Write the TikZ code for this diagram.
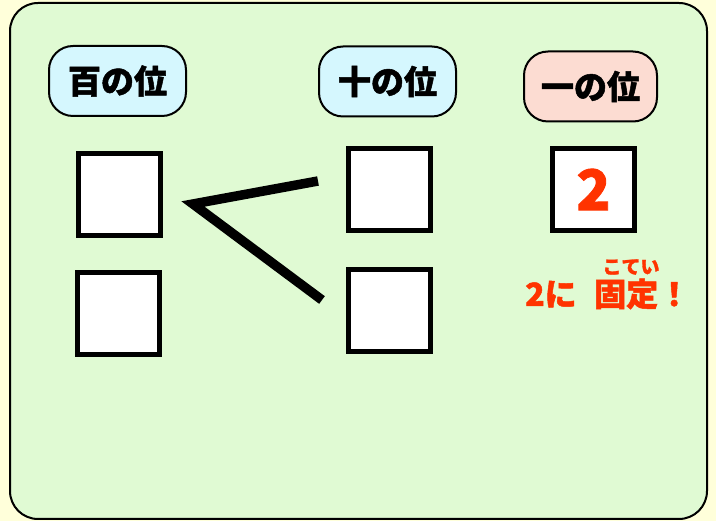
\documentclass[tikz,border=0pt]{standalone}
\usepackage{fontspec}
\newfontfamily\jp{Noto Sans CJK JP}
\newcommand\heavyjp[1]{\jp\bfseries\fontsize{#1}{#1}\selectfont\addfontfeature{FakeBold=1.5}}
\definecolor{outerbg}{HTML}{FFFFDA}
\definecolor{panel}{HTML}{E0FAD3}
\definecolor{cyanfill}{HTML}{D5F7FE}
\definecolor{pinkfill}{HTML}{FCDCD2}
\definecolor{fixred}{HTML}{FF3300}
\begin{document}
\begin{tikzpicture}[x=1pt,y=-1pt,
  placebox/.style={draw=black, line width=2pt, rounded corners=24pt,
    minimum width=137pt, minimum height=70pt, inner sep=0pt,
    font=\heavyjp{33}},
  slot/.style={draw=black, fill=white, line width=5pt, minimum size=82pt, inner sep=0pt},
  redtext/.style={text=fixred, inner sep=0pt}]
\useasboundingbox (0,0) rectangle (716,521);
\fill[outerbg] (0,0) rectangle (716,521);
\node[draw=black, line width=2pt, fill=panel, rounded corners=28pt,
  minimum width=697pt, minimum height=516pt, inner sep=0pt] (panel) at (358.5,261) {};
% place-value labels
\node[placebox, fill=cyanfill] (hund) at (117.5,81) {百の位};
\node[placebox, fill=cyanfill] (tens) at (387.5,81.5) {十の位};
\node[placebox, fill=pinkfill, minimum width=133pt] (ones) at (590.5,86.5) {一の位};
% slots
\node[slot] (h1) at (119.5,194.5) {};
\node[slot] (h2) at (118.5,314) {};
\node[slot] (t1) at (389,189.5) {};
\node[slot] (t2) at (389,310.5) {};
\node[slot, text=fixred, font=\heavyjp{56}] (o1) at (593.5,189.5) {2};
% branching lines
\coordinate (v) at (193,204);
\coordinate (e1) at (318,181);
\coordinate (e2) at (322,300);
\draw[line width=9.5pt, line join=miter] (e1) -- (v) -- (e2);
% fixed note
\node[redtext, anchor=base west, font=\heavyjp{32}] (fixa) at (525,306) {2に};
\node[redtext, anchor=base west, font=\heavyjp{32}] (fixb) at (594,306) {固定！};
\node[redtext, font=\heavyjp{19}] (ruby) at (631,267) {こてい};
\end{tikzpicture}
\end{document}
